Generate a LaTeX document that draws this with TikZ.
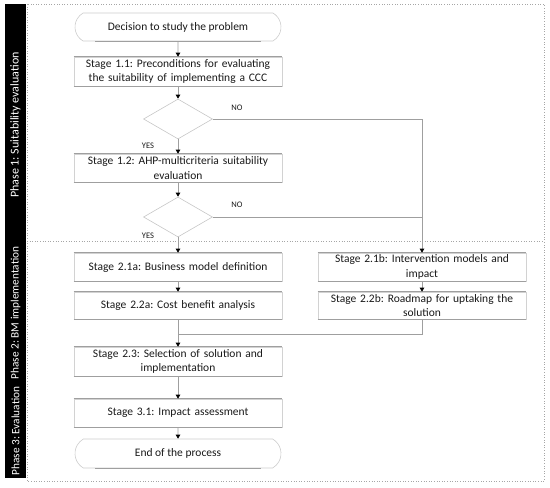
\documentclass[tikz,border=0pt]{standalone}
\usepackage{fontspec}
\setmainfont{Carlito}
\usetikzlibrary{shapes.geometric,shapes.misc,arrows.meta}
\frenchspacing
\begin{document}
\begin{tikzpicture}[x=1pt,y=-1pt,
  txt/.style={font=\fontsize{11.5}{14.5}\selectfont, text=black!90},
  stagebox/.style={txt, draw=gray!35, line width=0.6pt, minimum width=208pt, minimum height=28pt, text width=206pt, align=center, inner sep=1pt,
    append after command={(\tikzlastnode.north west) edge[draw=gray!75, line width=0.8pt] (\tikzlastnode.north east)
      (\tikzlastnode.south west) edge[draw=gray!75, line width=0.8pt] (\tikzlastnode.south east)}},
  termbox/.style={txt, draw=gray!40, line width=0.6pt, rounded rectangle, rounded rectangle arc length=120, minimum width=208pt, minimum height=28pt, inner sep=1pt,
    append after command={([xshift=12pt]\tikzlastnode.south west) edge[draw=gray!75, line width=0.8pt] ([xshift=-12pt]\tikzlastnode.south east)}},
  decision/.style={draw=gray!45, line width=0.6pt, diamond, minimum width=69pt, minimum height=40pt, inner sep=0pt},
  conn/.style={draw=gray!75, line width=0.8pt},
  arr/.style={conn, -{Triangle[length=4pt,width=4.5pt,color=black]}},
  lbl/.style={font=\fontsize{8.5}{9}\selectfont, text=black!90, inner sep=0pt},
  phase/.style={rotate=90, text=white, font=\fontsize{11.3}{13}\selectfont, inner sep=0pt}
]
\useasboundingbox (0,0) rectangle (550,488);
% frame
\draw[gray!70, dotted, line width=0.6pt] (27,4) rectangle (544,481);
\draw[gray!70, dotted, line width=0.6pt] (27,241) -- (544,241);
\fill[black] (5,4) rectangle (26,478);
\node[phase, font=\fontsize{12}{13}\selectfont] (p1) at (15.5,125) {Phase 1: Suitability evaluation};
\node[phase] (p2) at (15.5,313) {Phase 2: BM implementation};
\node[phase] (p3) at (15.5,431) {Phase 3: Evaluation};
% nodes
\node[termbox] (start) at (178,27) {Decision to study the problem};
\node[stagebox, minimum height=29pt] (s11) at (178,71.5) {Stage 1.1: Preconditions for evaluating\\the suitability of implementing a CCC};
\node[decision] (d1) at (178,119) {};
\node[stagebox] (s12) at (178,168) {Stage 1.2: AHP-multicriteria suitability\\evaluation};
\node[decision] (d2) at (178,217) {};
\node[stagebox] (s21a) at (178,267) {Stage 2.1a: Business model definition};
\node[stagebox, minimum height=27pt] (s22a) at (178,305.5) {Stage 2.2a: Cost benefit analysis};
\node[stagebox] (s21b) at (422,267) {Stage 2.1b: Intervention models and\\impact};
\node[stagebox, minimum height=27pt] (s22b) at (422,305.5) {Stage 2.2b: Roadmap for uptaking the\\solution};
\node[stagebox, minimum height=29pt] (s23) at (178,361.5) {Stage 2.3: Selection of solution and\\implementation};
\node[stagebox] (s31) at (178,413) {Stage 3.1: Impact assessment};
\node[termbox, minimum height=29pt] (end) at (178,453.5) {End of the process};
% labels
\node[lbl] (no1) at (237,108) {NO};
\node[lbl] (no2) at (237,205) {NO};
\node[lbl] (yes1) at (148,146) {YES};
\node[lbl] (yes2) at (148,236) {YES};
% connectors
\coordinate (c1) at (422,119);
\coordinate (m) at (178,334);
\draw[arr] (start) -- (s11);
\draw[arr] (s11) -- (d1);
\draw[arr] (d1) -- (s12);
\draw[arr] (s12) -- (d2);
\draw[arr] (d2) -- (s21a);
\draw[arr] (d1.east) -- (c1) -- (s21b.north);
\draw[conn] (d2.east) -- (d2.east -| c1);
\draw[arr] (s21a) -- (s22a);
\draw[arr] (s21b) -- (s22b);
\draw[arr] (s22a) -- (s23);
\draw[conn] (s22b.south) |- (m);
\draw[arr] (s23) -- (s31);
\draw[arr] (s31) -- (end);
\end{tikzpicture}
\end{document}
